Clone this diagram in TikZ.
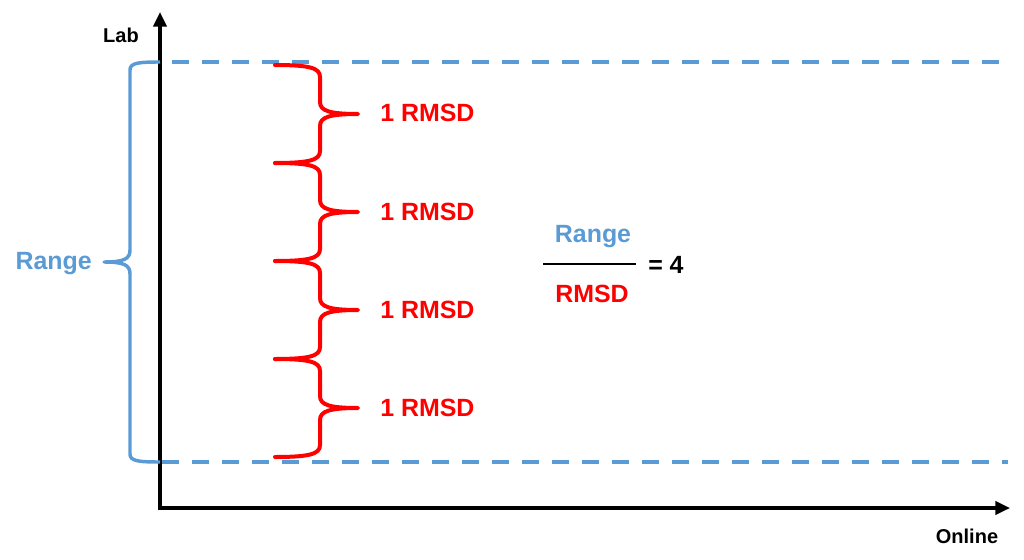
\documentclass[tikz,border=0pt]{standalone}
\usepackage{fontspec}
\setmainfont{Liberation Sans}
\usetikzlibrary{arrows.meta}

\definecolor{rangeblue}{RGB}{91,155,213}
\definecolor{rmsdred}{RGB}{255,0,0}

\tikzset{
  axis line/.style={line width=2.3pt, -{Triangle[length=11pt,width=10pt]}},
  range line/.style={rangeblue, line width=2.6pt, line join=round},
  limit line/.style={rangeblue, line width=2.8pt, dash pattern=on 12.5pt off 10pt},
  rmsd line/.style={rmsdred, line width=3pt, line join=round, line cap=round},
  big text/.style={font=\fontsize{18.7}{20}\selectfont\bfseries, inner sep=0pt},
  axis text/.style={font=\fontsize{15}{17}\selectfont\bfseries, inner sep=0pt},
  rmsd brace/.pic={
    \draw[rmsd line] (0,0) .. controls (35,0) and (45,3) .. (45,12) -- (45,37)
      .. controls (45,46) and (55,49) .. (83,49)
      .. controls (55,49) and (45,52) .. (45,61) -- (45,86)
      .. controls (45,95) and (35,98) .. (0,98);
  }
}

\begin{document}
\begin{tikzpicture}[x=0.75pt, y=-0.75pt]
    \useasboundingbox (0,0) rectangle (1024,560);

    \coordinate (origin) at (160,508);
    \coordinate (ytip) at (160,12);
    \coordinate (xtip) at (1010,508);

    % limits of the lab range
    \draw[limit line] (172,62) -- (1008,62);
    \draw[limit line] (162,462) -- (1008,462);

    \draw[axis line] ([yshift=-1.5pt]origin) -- (ytip);
    \draw[axis line] ([xshift=-1.5pt]origin) -- (xtip);
    \node[axis text, anchor=base] (lab) at (121,43) {Lab};
    \node[axis text, anchor=base] (online) at (967,543) {Online};

    % range brace
    \draw[range line] (160,62) .. controls (138,62) and (130,63) .. (130,70) -- (130,250)
      .. controls (130,259) and (124,262) .. (104,262)
      .. controls (124,262) and (130,265) .. (130,274) -- (130,454)
      .. controls (130,461) and (138,462) .. (160,462);
    \node[big text, rangeblue, anchor=base east] (range) at (92,269) {Range};

    % one brace per rmsd
    \foreach \i/\y in {1/65, 2/163, 3/261, 4/359} {
      \pic at (275,\y) {rmsd brace};
      \node[big text, rmsdred, anchor=base west] (rmsd\i) at (380,\y+57) {1 RMSD};
    }

    % ratio
    \node[big text, rangeblue, anchor=base] (fracnum) at (593,242) {Range};
    \node[big text, rmsdred, anchor=base] (fracden) at (592,302) {RMSD};
    \coordinate (barleft) at (543,264);
    \coordinate (barright) at (636,264);
    \draw[line width=2pt] (barleft) -- (barright);
    \node[big text, anchor=base west] (ratio) at (648,273) {= 4};
\end{tikzpicture}
\end{document}
